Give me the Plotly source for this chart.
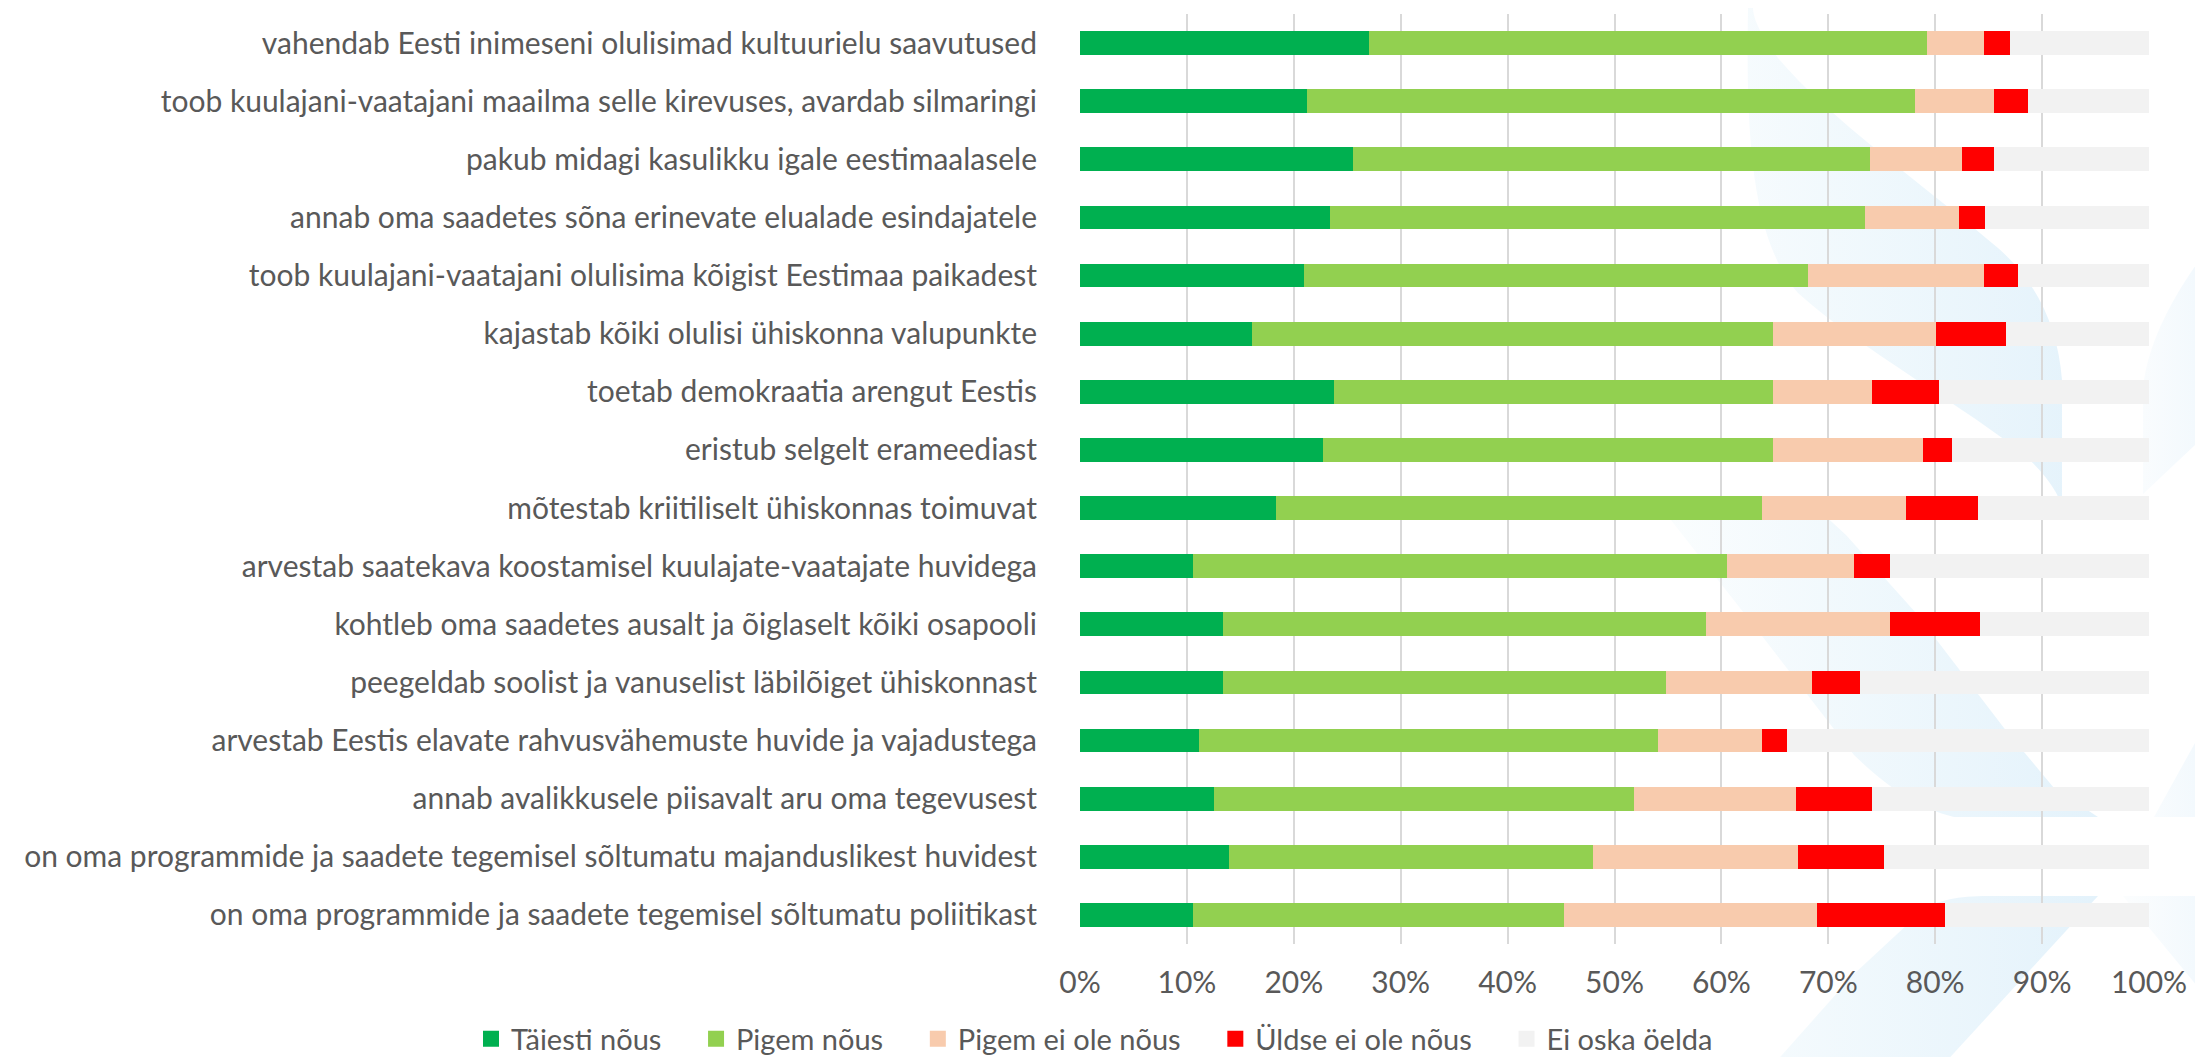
import base64
import plotly.graph_objects as go

categories = [
    "vahendab Eesti inimeseni olulisimad kultuurielu saavutused",
    "toob kuulajani-vaatajani maailma selle kirevuses, avardab silmaringi",
    "pakub midagi kasulikku igale eestimaalasele",
    "annab oma saadetes sõna erinevate elualade esindajatele",
    "toob kuulajani-vaatajani olulisima kõigist Eestimaa paikadest",
    "kajastab kõiki olulisi ühiskonna valupunkte",
    "toetab demokraatia arengut Eestis",
    "eristub selgelt erameediast",
    "mõtestab kriitiliselt ühiskonnas toimuvat",
    "arvestab saatekava koostamisel kuulajate-vaatajate huvidega",
    "kohtleb oma saadetes ausalt ja õiglaselt kõiki osapooli",
    "peegeldab soolist ja vanuselist läbilõiget ühiskonnast",
    "arvestab Eestis elavate rahvusvähemuste huvide ja vajadustega",
    "annab avalikkusele piisavalt aru oma tegevusest",
    "on oma programmide ja saadete tegemisel sõltumatu majanduslikest huvidest",
    "on oma programmide ja saadete tegemisel sõltumatu poliitikast",
]

taiesti_nous = [27.0, 21.2, 25.5, 23.4, 21.0, 16.1, 23.8, 22.7, 18.3, 10.6, 13.4, 13.4, 11.1, 12.5, 13.9, 10.6]
pigem_nous = [52.2, 56.9, 48.4, 50.0, 47.1, 48.7, 41.0, 42.1, 45.5, 49.9, 45.2, 41.4, 43.0, 39.3, 34.1, 34.7]
pigem_ei_ole_nous = [5.4, 7.4, 8.6, 8.8, 16.5, 15.3, 9.3, 14.1, 13.5, 11.9, 17.2, 13.7, 9.7, 15.2, 19.2, 23.6]
uldse_ei_ole_nous = [2.4, 3.2, 3.0, 2.5, 3.1, 6.5, 6.3, 2.7, 6.7, 3.4, 8.4, 4.5, 2.3, 7.1, 8.0, 12.0]
ei_oska_oelda = [13.0, 11.3, 14.5, 15.3, 12.3, 13.4, 19.6, 18.4, 16.0, 24.2, 15.8, 27.0, 33.9, 25.9, 24.8, 19.1]

series_names = ["Täiesti nõus", "Pigem nõus", "Pigem ei ole nõus", "Üldse ei ole nõus", "Ei oska öelda"]
series_values = [taiesti_nous, pigem_nous, pigem_ei_ole_nous, uldse_ei_ole_nous, ei_oska_oelda]
series_colors = ["#00B050", "#92D050", "#F8CBAD", "#FF0000", "#F2F2F2"]

tick_values = [0, 10, 20, 30, 40, 50, 60, 70, 80, 90, 100]
tick_labels = ["0%", "10%", "20%", "30%", "40%", "50%", "60%", "70%", "80%", "90%", "100%"]

W, H = 2203, 1057
ML, MR, MT, MB = 1072, 62, 6, 121
PW, PH = W - ML - MR, H - MT - MB

FONT = "Lato, Open Sans, sans-serif"
TXT = "#595959"
PAD = "\u00a0" * 4

fig = go.Figure()
for name, vals, col in zip(series_names, series_values, series_colors):
    fig.add_trace(go.Bar(
        y=categories, x=vals, name=name, orientation="h",
        marker=dict(color=col, line=dict(width=0)),
        showlegend=False, legendgroup=name,
        hovertemplate="%{y}<br>" + name + ": %{x}%<extra></extra>",
    ))
# legend proxies with larger square symbols
for name, col in zip(series_names, series_colors):
    fig.add_trace(go.Scatter(
        x=[None], y=[None], mode="markers", name=name + PAD, legendgroup=name,
        marker=dict(symbol="square", size=17, color=col, line=dict(width=0)),
        showlegend=True, hoverinfo="skip",
    ))

# faint decorative watermark (light-blue swooshes) drawn as an SVG background image
svg = f"""<svg xmlns='http://www.w3.org/2000/svg' width='{W}' height='{H}' viewBox='0 0 {W} {H}'>
<defs>
<linearGradient id='g1' gradientUnits='userSpaceOnUse' x1='1660' y1='0' x2='2100' y2='0'>
<stop offset='0' stop-color='#fafdfe'/><stop offset='1' stop-color='#e3f2fb'/></linearGradient>
<linearGradient id='g2' gradientUnits='userSpaceOnUse' x1='2120' y1='0' x2='2203' y2='0'>
<stop offset='0' stop-color='#fbfdfe'/><stop offset='1' stop-color='#f1f8fd'/></linearGradient>
</defs>
<path fill='url(#g1)' d='M1740,0 C1738,120 1742,230 1790,285 C1850,340 1960,400 2020,450 C2045,475 2052,490 2054,500
 L2054,372 C2050,320 2030,275 1990,240 C1920,180 1820,110 1770,50 C1755,30 1745,12 1745,0 Z'/>
<path fill='url(#g1)' d='M1655,502 C1660,492 1672,490 1690,490 L1800,492 L1838,527 L1908,605 L1996,720 L2046,780 L2090,809
 L1946,809 C1910,800 1880,780 1846,747 L1754,628 Z'/>
<path fill='url(#g1)' d='M1765,1057 L1846,966 L1915,902 C1930,892 1950,888 1980,888 L2090,888 L1935,1057 Z'/>
<path fill='url(#g2)' d='M2115,888 L2203,888 L2203,995 Z'/>
<path fill='url(#g2)' d='M2203,236 C2170,280 2140,330 2135,380 L2135,486 L2203,422 Z'/>
<path fill='url(#g2)' d='M2146,809 L2203,706 L2203,809 Z'/>
</svg>"""
svg_uri = "data:image/svg+xml;base64," + base64.b64encode(svg.encode("utf-8")).decode("ascii")

fig.add_layout_image(dict(
    source=svg_uri, xref="paper", yref="paper",
    x=-ML / PW, y=1 + MT / PH, sizex=W / PW, sizey=H / PH,
    xanchor="left", yanchor="top", sizing="stretch", layer="below", opacity=1,
))

fig.update_layout(
    width=W, height=H,
    barmode="stack", bargap=0.59,
    margin=dict(l=ML, r=MR, t=MT, b=MB, autoexpand=False),
    paper_bgcolor="white", plot_bgcolor="rgba(0,0,0,0)",
    font=dict(family=FONT, size=30, color=TXT),
    xaxis=dict(range=[0, 100], tickvals=tick_values, ticktext=tick_labels,
               showgrid=True, gridcolor="#D9D9D9", gridwidth=2, zeroline=False,
               showline=False, ticks="", ticklabelstandoff=18,
               tickfont=dict(family=FONT, size=30, color=TXT), fixedrange=True),
    yaxis=dict(autorange="reversed", showgrid=False, zeroline=False, showline=False,
               ticks="", ticklabelstandoff=42,
               tickfont=dict(family=FONT, size=30, color=TXT)),
    legend=dict(orientation="h",
                x=(463 - ML) / PW, xanchor="left",
                y=1 - (1031 - MT) / PH, yanchor="middle",
                font=dict(family=FONT, size=29, color=TXT), traceorder="normal",
                itemwidth=30, bgcolor="rgba(0,0,0,0)"),
    showlegend=True,
)

fig.write_html("out.html")
